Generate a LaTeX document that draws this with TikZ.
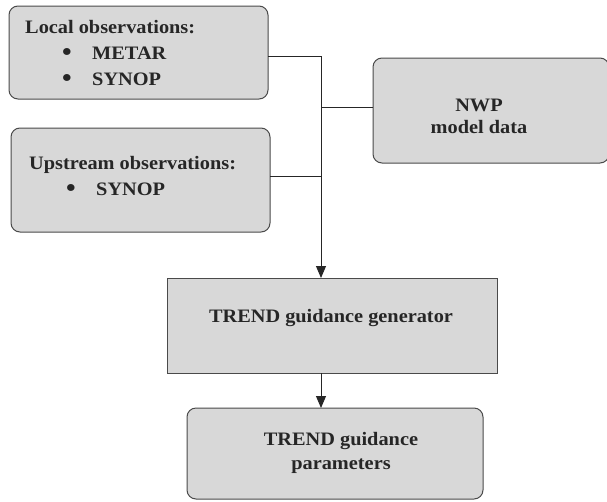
\documentclass[tikz,border=0pt]{standalone}
\usepackage{fontspec}
\setmainfont[FakeStretch=1.07]{Liberation Serif}
\usetikzlibrary{arrows.meta}
\definecolor{boxfill}{HTML}{D8D8D8}
\definecolor{boxline}{HTML}{4A4A4A}
\definecolor{ink}{HTML}{262626}
\newcommand{\bigbul}{\raisebox{-1.8pt}{\scalebox{1.35}{\textbullet}}}
\begin{document}
\begin{tikzpicture}[x=1pt,y=-1pt,
  box/.style={draw=boxline, fill=boxfill, line width=1pt, inner sep=0pt, outer sep=0pt, anchor=north west},
  rbox/.style={box, rounded corners=9pt},
  txt/.style={inner sep=0pt, text=ink, font=\fontsize{19}{22}\selectfont\bfseries},
  conn/.style={draw=ink, line width=0.9pt},
  tip/.style={-{Triangle[width=10pt,length=12pt]}}
]
\useasboundingbox (0,0) rectangle (607,501);
% boxes
\node[rbox, minimum width=259pt, minimum height=93pt] (local) at (9,6) {};
\node[rbox, minimum width=259pt, minimum height=104pt] (up) at (11,128) {};
\node[rbox, minimum width=236pt, minimum height=105pt] (nwp) at (373,58) {};
\node[box, minimum width=330pt, minimum height=95pt] (gen) at (167,278) {};
\node[rbox, minimum width=296pt, minimum height=91pt] (par) at (187,408) {};
% texts
\node[txt, anchor=base west] (l1) at (25,33) {Local observations:};
\node[txt, anchor=base west] (l2) at (62,59) {\makebox[30pt][l]{\bigbul}METAR};
\node[txt, anchor=base west] (l3) at (62,85) {\makebox[30pt][l]{\bigbul}SYNOP};
\node[txt, anchor=base west] (u1) at (29,169) {Upstream observations:};
\node[txt, anchor=base west] (u2) at (66,195) {\makebox[30pt][l]{\bigbul}SYNOP};
\node[txt, anchor=base] (n1) at (479,111) {NWP};
\node[txt, anchor=base] (n2) at (479,133) {model data};
\node[txt, anchor=base] (g1) at (331,322) {TREND guidance generator};
\node[txt, anchor=base] (p1) at (341,445) {TREND guidance};
\node[txt, anchor=base] (p2) at (341,469) {parameters};
% junctions
\coordinate (j1) at (321,56);
\coordinate (j2) at (321,107);
\coordinate (j3) at (321,176);
% connectors
\draw[conn] (local.east|-j1) -- (j1);
\draw[conn] (nwp.west|-j2) -- (j2);
\draw[conn] (up.east|-j3) -- (j3);
\draw[conn, tip] (j1) -- (gen.north-|j1);
\draw[conn, tip] (gen.south-|j1) -- (par.north-|j1);
\end{tikzpicture}
\end{document}
